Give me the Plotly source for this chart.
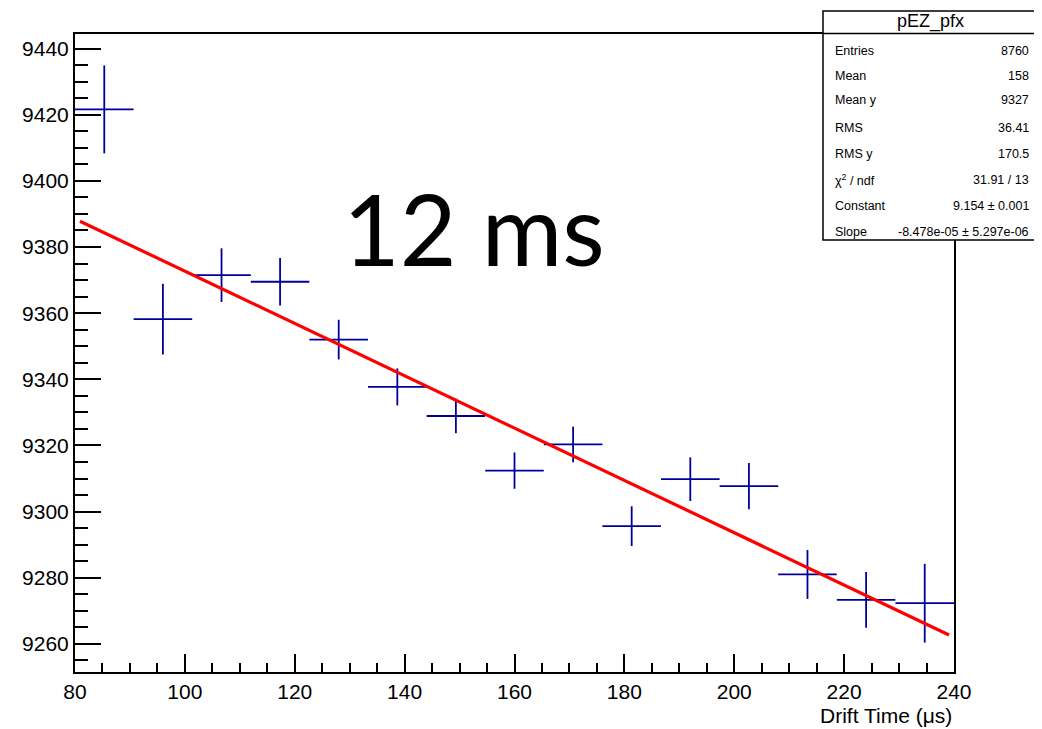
import plotly.graph_objects as go

# ---- data ----
bin_centers = [85.33, 96.0, 106.67, 117.33, 128.0, 138.67, 149.33, 160.0,
               170.67, 181.33, 192.0, 202.67, 213.33, 224.0, 234.67]
bin_halfwidth = [5.33] * 15
mean_y = [9421.6, 9358.2, 9371.5, 9369.5, 9352.0, 9337.7, 9328.9, 9312.4,
          9320.3, 9295.6, 9309.8, 9307.7, 9281.0, 9273.3, 9272.3]
err_y = [13.3, 10.7, 8.1, 7.2, 6.0, 5.6, 5.2, 5.5, 5.4, 6.0, 6.6, 7.0, 7.4, 8.4, 11.9]
fit_x = [80.9, 239.1]
fit_y = [9387.8, 9262.7]

stats_labels = ["Entries", "Mean", "Mean y", "RMS", "RMS y",
                "χ<sup>2</sup> / ndf", "Constant", "Slope"]
stats_values = ["8760", "158", "9327", "36.41", "170.5", "31.91 / 13",
                "9.154 ± 0.001", "-8.478e-05 ± 5.297e-06"]
stats_title = "pEZ_pfx"
big_label = "12 ms"

# ---- layout geometry (viewport pixels; page body has an 8px margin) ----
OFF = 8
W, H = 1042 - OFF, 729 - OFF
L, R, T, B = 75 - OFF, 954 - OFF, 34 - OFF, 672 - OFF


def px(xp):
    return (xp - OFF - L) / (R - L)


def py(yp):
    return (B - (yp - OFF)) / (B - T)


fig = go.Figure()
fig.add_trace(go.Scatter(
    x=bin_centers, y=mean_y, mode="markers",
    marker=dict(size=2, color="#000099"),
    error_x=dict(type="data", array=bin_halfwidth, width=0, thickness=1.8, color="#000099"),
    error_y=dict(type="data", array=err_y, width=0, thickness=1.8, color="#000099"),
    showlegend=False, hoverinfo="skip"))
fig.add_trace(go.Scatter(
    x=fit_x, y=fit_y, mode="lines",
    line=dict(color="#ff0000", width=3.2),
    showlegend=False, hoverinfo="skip"))

axis_font = dict(family="Liberation Sans, Arial, sans-serif", size=21, color="black")

fig.update_xaxes(
    range=[80, 240], showgrid=False, zeroline=False,
    showline=True, linecolor="black", linewidth=2, mirror=True,
    ticks="inside", ticklen=18, tickwidth=1.5, tickcolor="black",
    tick0=80, dtick=20, tickfont=axis_font,
    minor=dict(ticks="inside", ticklen=9, tickwidth=1.5, tickcolor="black", dtick=5, tick0=80),
)
fig.update_yaxes(
    range=[9251.5, 9444.4], showgrid=False, zeroline=False,
    showline=True, linecolor="black", linewidth=2, mirror=True,
    ticks="inside", ticklen=26, tickwidth=1.5, tickcolor="black",
    tick0=9260, dtick=20, tickfont=axis_font,
    minor=dict(ticks="inside", ticklen=13, tickwidth=1.5, tickcolor="black", dtick=5, tick0=9260),
)

annotations = []
shapes = []

# axis title
annotations.append(dict(
    text="Drift Time (μs)", xref="paper", yref="paper",
    x=px(954), y=py(715), xanchor="right", yanchor="middle",
    showarrow=False, font=dict(family="Liberation Sans, Arial, sans-serif", size=21, color="black")))

# big label
annotations.append(dict(
    text=big_label, xref="paper", yref="paper",
    x=px(474), y=py(228), xanchor="center", yanchor="middle",
    showarrow=False, font=dict(family="Lato, Open Sans, sans-serif", size=98, color="black")))

# stats box
bx0, bx1, by0, by1 = 823, 1038, 11, 240
shapes.append(dict(type="rect", xref="paper", yref="paper",
                   x0=px(bx0), x1=px(bx1), y0=py(by1), y1=py(by0),
                   line=dict(color="black", width=1.5), fillcolor="white", layer="above"))
shapes.append(dict(type="line", xref="paper", yref="paper",
                   x0=px(bx0), x1=px(bx1), y0=py(33.5), y1=py(33.5),
                   line=dict(color="black", width=1.5), layer="above"))
annotations.append(dict(
    text=stats_title, xref="paper", yref="paper",
    x=px((bx0 + bx1) / 2), y=py(22), xanchor="center", yanchor="middle",
    showarrow=False, font=dict(family="Liberation Sans, Arial, sans-serif", size=18, color="black")))
row_y = [51, 76, 100, 128, 154, 180, 206, 232]
for lab, val, ry in zip(stats_labels, stats_values, row_y):
    annotations.append(dict(
        text=lab, xref="paper", yref="paper", x=px(833), y=py(ry),
        xanchor="left", yanchor="middle", showarrow=False,
        font=dict(family="Liberation Sans, Arial, sans-serif", size=12.5, color="black")))
    annotations.append(dict(
        text=val, xref="paper", yref="paper", x=px(1031), y=py(ry),
        xanchor="right", yanchor="middle", showarrow=False,
        font=dict(family="Liberation Sans, Arial, sans-serif", size=12.5, color="black")))

fig.update_layout(
    width=W, height=H,
    margin=dict(l=L, r=W - R, t=T, b=H - B, pad=0),
    paper_bgcolor="white", plot_bgcolor="white",
    annotations=annotations, shapes=shapes,
)

fig.write_html("out.html")
